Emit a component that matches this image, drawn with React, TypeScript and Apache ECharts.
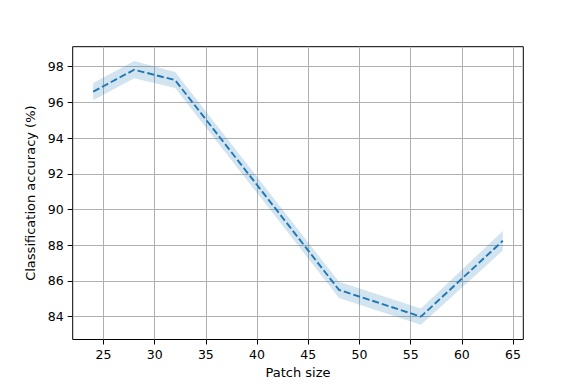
import React, { useEffect, useRef } from "react";
import * as echarts from "echarts";

const patchSizes = [24, 28, 32, 48, 56, 64];
const meanAccuracy = [96.6, 97.83, 97.25, 85.5, 84.0, 88.25];
const lowerAccuracy = [96.12, 97.35, 96.8, 85.05, 83.55, 87.7];
const upperAccuracy = [97.08, 98.32, 97.7, 85.95, 84.45, 88.8];
const xTicks = [25, 30, 35, 40, 45, 50, 55, 60, 65];
const yTicks = [84, 86, 88, 90, 92, 94, 96, 98];

const FONT = "DejaVu Sans";

export default function App() {
  const ref = useRef<HTMLDivElement>(null);
  useEffect(() => {
    if (!ref.current) return;
    const chart = echarts.init(ref.current, undefined, { renderer: "svg" });
    const bandData = patchSizes.map((x, i) => [x, lowerAccuracy[i], upperAccuracy[i]]);
    const mean = patchSizes.map((x, i) => [x, meanAccuracy[i]]);
    chart.setOption({
      animation: false,
      backgroundColor: "#ffffff",
      grid: {
        left: 72.7,
        right: 582 - 523.3,
        top: 46.7,
        bottom: 388 - 339.5,
        show: true,
        borderColor: "#000000",
        borderWidth: 1,
        backgroundColor: "transparent",
        containLabel: false,
      },
      xAxis: {
        type: "value",
        min: 22,
        max: 66,
        name: "Patch size",
        nameLocation: "middle",
        nameGap: 26,
        nameTextStyle: { fontFamily: FONT, fontSize: 13, color: "#000" },
        axisLine: { show: false },
        axisTick: {
          show: true,
          length: 5,
          customValues: xTicks,
          lineStyle: { color: "#000", width: 1 },
        },
        axisLabel: {
          customValues: xTicks,
          margin: 8,
          fontFamily: FONT,
          fontSize: 12.5,
          color: "#000",
        },
        splitLine: { show: true, lineStyle: { color: "#b0b0b0", width: 1 } },
      },
      yAxis: {
        type: "value",
        min: 82.72,
        max: 99.12,
        name: "Classification accuracy (%)",
        nameLocation: "middle",
        nameGap: 28,
        nameTextStyle: { fontFamily: FONT, fontSize: 13, color: "#000" },
        axisLine: { show: false },
        axisTick: {
          show: true,
          length: 5,
          customValues: yTicks,
          lineStyle: { color: "#000", width: 1 },
        },
        axisLabel: {
          customValues: yTicks,
          margin: 9,
          fontFamily: FONT,
          fontSize: 12.5,
          color: "#000",
        },
        splitLine: { show: true, lineStyle: { color: "#b0b0b0", width: 1 } },
      },
      series: [
        {
          type: "custom",
          data: bandData,
          encode: { x: 0, y: [1, 2] },
          silent: true,
          renderItem: (params: any, api: any) => {
            if (params.dataIndex !== 0) return null;
            const top = bandData.map((d) => api.coord([d[0], d[2]]));
            const bottom = bandData.map((d) => api.coord([d[0], d[1]])).reverse();
            return {
              type: "polygon",
              shape: { points: top.concat(bottom) },
              style: { fill: "rgba(31,119,180,0.2)", stroke: "none" },
            };
          },
        },
        {
          type: "line",
          data: mean,
          symbol: "none",
          lineStyle: { color: "#1f77b4", width: 1.9, type: [7, 3] },
          silent: true,
        },
      ],
    });
    return () => chart.dispose();
  }, []);
  return <div ref={ref} style={{ width: 582, height: 388, position: "absolute", left: 0, top: 0 }} />;
}
